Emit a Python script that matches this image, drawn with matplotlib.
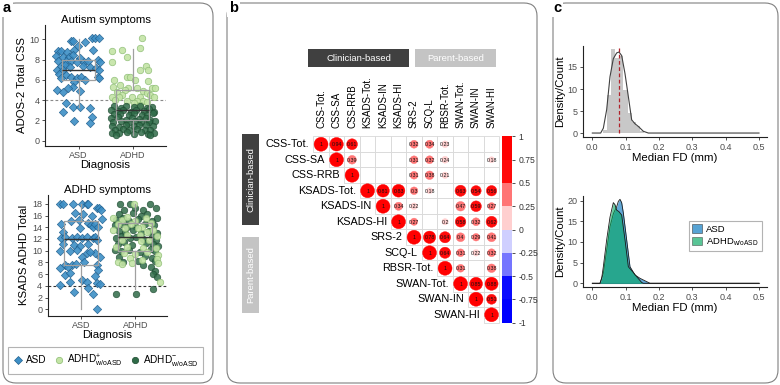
import numpy as np
import matplotlib
matplotlib.use("Agg")
import matplotlib.pyplot as plt
from matplotlib.patches import FancyBboxPatch, Rectangle, Circle, Patch
from matplotlib.lines import Line2D
import matplotlib.colors as mcolors
import matplotlib.colorbar as mcolorbar

plt.rcParams['font.family'] = ['Liberation Sans', 'DejaVu Sans']
plt.rcParams['mathtext.fontset'] = 'custom'
plt.rcParams['mathtext.rm'] = 'Liberation Sans'
plt.rcParams['mathtext.it'] = 'Liberation Sans:italic'

# ---------------- data: panel a ----------------
diagnoses = ['ASD', 'ADHD']
asd_css_jit = [-0.14, -0.10, 0.11, 0.25, 0.31, 0.37, -0.01, 0.27, -0.38, -0.32, -0.22, -0.08,
               -0.42, -0.29, -0.18, -0.11, 0.02, -0.38, -0.24, -0.14, -0.04, 0.10, 0.17, 0.36,
               0.39, -0.33, -0.26, -0.16, 0.08, 0.21, 0.32, 0.38, -0.40, -0.29, -0.37, -0.23,
               -0.14, -0.04, 0.05, 0.36, -0.32, -0.08, 0.11, 0.38, -0.11, -0.19, -0.41, -0.29,
               0.02, -0.23, -0.11, -0.29, 0.02, 0.21, 0.24, -0.08, 0.21]
asd_css = [9.87, 9.87, 9.77, 10.16, 10.16, 10.16, 9.38, 8.95, 8.88, 8.88, 8.78, 8.95,
           8.39, 8.29, 8.29, 8.45, 8.19, 7.86, 7.86, 7.86, 7.73, 7.80, 7.86, 7.96,
           7.80, 7.40, 7.47, 7.30, 7.40, 7.30, 7.14, 6.97, 6.97, 6.97, 6.55, 6.48,
           6.32, 6.15, 6.32, 6.32, 6.15, 5.76, 5.99, 6.15, 5.33, 5.16, 5.00, 4.84,
           4.90, 3.68, 3.36, 2.86, 3.36, 3.19, 2.37, 1.94, 1.71]
adhdp_css_jit = [-0.39, -0.20, 0.17, 0.13, -0.10, -0.39, 0.25, 0.29, 0.14, -0.11, -0.05, -0.34,
                 0.05, 0.29, -0.23, -0.36, -0.08, 0.08, 0.36, 0.42, -0.29, -0.14, 0.20, 0.26,
                 -0.20, -0.39, -0.26, -0.02, 0.14, 0.33, 0.39, -0.33, -0.11, 0.08, 0.20, 0.26,
                 0.02, 0.14]
adhdp_css = [8.85, 8.95, 10.10, 9.18, 8.29, 7.80, 7.40, 6.97, 6.97, 6.32, 6.32, 5.99,
             5.99, 5.89, 5.49, 5.33, 5.23, 5.23, 5.23, 5.23, 4.84, 5.00, 4.90, 4.67,
             4.51, 4.34, 4.34, 4.34, 4.34, 4.51, 4.34, 4.01, 3.91, 3.91, 3.91, 3.78,
             3.68, 3.52]
adhdm_css_jit = [-0.35, -0.22, -0.12, 0.03, 0.13, 0.26, 0.36, -0.41, -0.27, -0.17, -0.03, 0.07,
                 0.21, 0.30, 0.40, -0.34, -0.23, -0.07, 0.03, 0.18, 0.27, 0.38, -0.40, -0.28,
                 -0.13, -0.01, 0.11, 0.24, 0.33, -0.36, -0.21, -0.09, 0.05, 0.16, 0.30, 0.41,
                 -0.39, -0.26, -0.13, 0.02, 0.12, 0.24, 0.37, -0.33, -0.17, -0.06, 0.08, 0.23,
                 0.32, -0.38, -0.25, -0.10, 0.02, 0.15, 0.29, 0.39, -0.30, 0.33]
adhdm_css = [3.40, 3.22, 3.47, 3.30, 3.38, 3.25, 3.35, 3.00, 2.90, 3.07, 2.85, 3.02,
             2.95, 3.10, 2.88, 2.62, 2.68, 2.50, 2.74, 2.58, 2.52, 2.70, 2.20, 2.30,
             2.05, 2.25, 2.12, 2.24, 2.08, 1.85, 1.95, 1.76, 1.92, 1.82, 1.80, 1.95,
             1.50, 1.40, 1.58, 1.42, 1.52, 1.58, 1.44, 1.10, 1.18, 1.02, 1.14, 1.06,
             1.05, 0.80, 0.72, 0.88, 0.70, 0.84, 0.62, 0.80, 0.56, 0.52]

asd_ksads_jit = [-0.38, -0.33, -0.15, 0.02, 0.11, 0.14, 0.30, 0.34, 0.37, -0.10, 0.04, 0.20,
                 0.38, -0.37, -0.18, -0.04, 0.14, 0.18, 0.22, 0.26, 0.32, -0.02, -0.32, -0.37,
                 -0.29, -0.16, -0.07, 0.02, 0.11, 0.23, 0.26, 0.29, -0.32, -0.13, -0.01, 0.14,
                 -0.38, -0.20, -0.07, 0.26, 0.02, 0.11, 0.17, 0.35, 0.05, -0.29, -0.16, -0.09,
                 0.29, -0.38, -0.23, 0.32, -0.29, -0.20, 0.26, 0.02, 0.11, 0.30, -0.38, -0.20,
                 0.35, 0.14, -0.13, 0.22, 0.29]
asd_ksads = [18.0, 18.0, 18.0, 18.0, 18.0, 18.0, 17.25, 17.25, 16.97, 16.40, 16.23, 16.00,
             15.43, 14.52, 14.98, 15.26, 14.69, 14.41, 14.12, 14.52, 14.12, 13.84, 13.15, 12.13,
             12.41, 12.13, 12.41, 12.13, 12.41, 12.13, 12.41, 11.84, 11.10, 10.99, 10.88, 11.10,
             9.97, 9.97, 10.14, 9.57, 9.00, 9.57, 9.74, 9.00, 8.14, 7.57, 7.57, 7.69,
             7.57, 7.12, 7.29, 6.72, 5.87, 6.15, 5.75, 5.01, 4.61, 4.44, 4.16, 4.73,
             4.27, 3.59, 3.02, 2.62, 0.00]
adhdm_ksads_jit = [-0.28, -0.10, 0.27, 0.38, -0.20, 0.00, 0.15, -0.30, -0.05, 0.10, 0.22,
                   -0.35, -0.22, -0.12, 0.05, 0.30, 0.40, -0.38, -0.25, -0.15, 0.00, 0.18, 0.35,
                   -0.30, -0.18, -0.05, 0.10, 0.25, 0.40, -0.36, -0.26, -0.10, 0.02, 0.14, 0.30,
                   0.38, -0.32, -0.20, -0.06, 0.20, 0.33, 0.42, -0.38, -0.27, -0.12, 0.08, 0.28,
                   0.36, -0.30, 0.18, 0.30, -0.22, 0.05, 0.36, 0.15, 0.28, 0.36, 0.32, 0.40,
                   -0.35, 0.02, 0.32]
adhdm_ksads = [18.0, 17.9, 18.0, 17.3, 17.0, 17.2, 16.9, 16.3, 16.5, 16.0, 16.2,
               15.3, 15.5, 15.0, 15.4, 15.1, 15.6, 14.3, 14.5, 14.0, 14.2, 14.6, 14.3,
               13.3, 13.0, 13.5, 13.1, 13.4, 13.0, 12.2, 12.5, 12.1, 12.3, 12.0, 12.4,
               11.9, 11.2, 11.5, 11.0, 11.3, 11.1, 10.8, 10.1, 9.9, 10.2, 9.8, 10.3,
               10.0, 9.0, 9.1, 8.8, 8.1, 8.3, 8.2, 7.6, 7.2, 6.6, 6.0, 5.5,
               2.6, 2.6, 3.4]
adhdp_ksads_jit = [-0.02, -0.40, -0.25, -0.15, 0.00, 0.20, -0.32, -0.08, 0.12, 0.28,
                   -0.40, -0.18, 0.05, 0.22, 0.33, -0.15, 0.08, 0.40, -0.25, 0.10, 0.26,
                   -0.35, -0.16, 0.15, 0.38, -0.20, 0.00, 0.22, 0.42, -0.32, -0.10, 0.12,
                   0.40, -0.25, -0.06, 0.42, 0.45]
adhdp_ksads = [18.0, 15.6, 15.3, 15.7, 15.0, 15.5, 14.6, 14.6, 14.1, 14.7,
               13.6, 13.8, 13.9, 13.2, 13.6, 12.7, 12.6, 12.5, 11.8, 11.6, 11.8,
               10.7, 10.6, 10.5, 10.4, 9.6, 9.5, 9.7, 9.2, 8.0, 8.7, 8.4,
               8.6, 7.7, 7.9, 7.9, 4.7]

# boxplot summaries (med, q1, q3, lower whisker, upper whisker)
css_box = {'ASD': (7.0, 6.0, 8.0, 3.3, 10.0), 'ADHD': (3.0, 2.0, 5.0, 0.6, 9.0)}
ksads_box = {'ASD': (12.0, 7.5, 15.0, 0.0, 18.0), 'ADHD': (12.3, 10.0, 14.8, 3.4, 18.0)}

# ---------------- data: panel b ----------------
measures = ['CSS-Tot.', 'CSS-SA', 'CSS-RRB', 'KSADS-Tot.', 'KSADS-IN', 'KSADS-HI',
            'SRS-2', 'SCQ-L', 'RBSR-Tot.', 'SWAN-Tot.', 'SWAN-IN', 'SWAN-HI']
nan = np.nan
cor_rows = [
    [1, 0.94, 0.61, nan, nan, nan, 0.32, 0.34, 0.23, nan, nan, nan],
    [1, 0.39, nan, nan, nan, 0.31, 0.32, 0.24, nan, nan, 0.18],
    [1, nan, nan, nan, 0.31, 0.38, 0.21, nan, nan, nan],
    [1, 0.81, 0.83, 0.30, 0.18, nan, 0.63, 0.54, 0.56],
    [1, 0.34, 0.22, nan, nan, 0.47, 0.59, 0.27],
    [1, 0.27, nan, 0.20, 0.58, 0.32, 0.62],
    [1, 0.78, 0.64, 0.40, 0.29, 0.41],
    [1, 0.64, 0.31, 0.22, 0.32],
    [1, 0.31, nan, 0.38],
    [1, 0.85, 0.88],
    [1, 0.51],
    [1],
]
cbar_ticks = [-1, -0.75, -0.5, -0.25, 0, 0.25, 0.5, 0.75, 1]
cbar_labels = ['-1', '-0.75', '-0.5', '-0.25', '0', '0.25', '0.5', '0.75', '1']
cor_colors = ['#0000FF', '#0A0AFF', '#7575FF', '#CFCFFF', '#FFCFCF', '#FF7575', '#FF0A0A', '#FF0000']

# ---------------- data: panel c ----------------
hist_left = [0.0305, 0.043, 0.0555, 0.068, 0.0805, 0.093, 0.1055, 0.118, 0.1305, 0.143]
hist_height = [0.6, 8.6, 19.0, 17.1, 17.4, 9.8, 4.5, 2.4, 1.5, 0.4]
hist_width = 0.0125
fd_x = [0.0, 0.025, 0.033, 0.043, 0.053, 0.063, 0.073, 0.080, 0.088, 0.098, 0.108, 0.118,
        0.128, 0.138, 0.153, 0.168, 0.5]
fd_y = [0, 0, 1.1, 5.3, 12.8, 16.9, 18.2, 18.4, 17.6, 13.5, 8.3, 3.0, 2.1, 1.5, 0.4, 0, 0]
fd_median = 0.08
asd_fd_x = [0.0, 0.023, 0.033, 0.043, 0.053, 0.063, 0.068, 0.073, 0.078, 0.083, 0.088, 0.093,
            0.103, 0.113, 0.128, 0.143, 0.163, 0.173, 0.5]
asd_fd_y = [0, 0, 2.4, 8.0, 13.7, 16.8, 17.7, 18.5, 19.8, 20.3, 19.5, 17.0, 10.5, 4.0, 2.0,
            1.2, 0.4, 0, 0]
adhd_fd_x = [0.0, 0.023, 0.028, 0.033, 0.043, 0.053, 0.063, 0.068, 0.073, 0.080, 0.088, 0.098,
             0.108, 0.123, 0.133, 0.148, 0.153, 0.5]
adhd_fd_y = [0, 0, 1.2, 4.0, 10.5, 16.0, 19.5, 19.0, 17.7, 17.3, 16.5, 10.5, 4.0, 2.6, 1.6,
             0.2, 0, 0]

# ---------------- figure ----------------
W, H = 780, 385
fig = plt.figure(figsize=(7.8, 3.85), dpi=100)


def px_axes(l, t, r, b):
    ax = fig.add_axes([l / W, 1 - b / H, (r - l) / W, (b - t) / H])
    ax.set_facecolor('none')
    return ax


ov = fig.add_axes([0, 0, 1, 1])
ov.set_xlim(0, W)
ov.set_ylim(H, 0)
ov.axis('off')
ov.set_facecolor('none')
for (x0, y0, x1, y1) in [(3, 3, 213, 383), (227, 3, 537, 383), (553, 3, 778, 383)]:
    r = 13
    ov.add_patch(FancyBboxPatch((x0 + r, y0 + r), x1 - x0 - 2 * r, y1 - y0 - 2 * r,
                                boxstyle=f"round,pad={r}", fc='none', ec='#808080', lw=0.8))
for lab, x in [('a', 3), ('b', 229), ('c', 553)]:
    ov.text(x, 1, lab, fontsize=10.5, fontweight='bold', ha='left', va='top',
            bbox=dict(fc='white', ec='none', pad=1.5))

# header boxes of panel b
ov.add_patch(Rectangle((308, 49), 101, 18, fc='#404040', ec='none'))
ov.text(358.5, 58.5, 'Clinician-based', color='white', fontsize=6.8, ha='center', va='center')
ov.add_patch(Rectangle((415, 49), 81, 18, fc='#C4C4C4', ec='none'))
ov.text(455.5, 58.5, 'Parent-based', color='white', fontsize=6.8, ha='center', va='center')
ov.add_patch(Rectangle((242, 134), 17, 91, fc='#404040', ec='none'))
ov.text(250.5, 179.5, 'Clinician-based', color='white', fontsize=6.8, ha='center', va='center',
        rotation=90)
ov.add_patch(Rectangle((242, 237), 17, 76, fc='#C4C4C4', ec='none'))
ov.text(250.5, 275, 'Parent-based', color='white', fontsize=6.8, ha='center', va='center',
        rotation=90)

# ---------------- panel a ----------------
c_asd, e_asd = '#3D8FC6', '#22608E'
c_p, e_p = '#C3E4A5', '#8BBB72'
c_m, e_m = '#2F6B48', '#1D4A30'


def style_a(ax):
    for s in ['top', 'right']:
        ax.spines[s].set_visible(False)
    for s in ['left', 'bottom']:
        ax.spines[s].set_linewidth(0.8)
        ax.spines[s].set_color('#222222')
    ax.tick_params(labelsize=6.5, labelcolor='#4D4D4D', length=2.5, width=0.6, color='#333333',
                   pad=1.5)
    ax.set_xticks([1, 2])
    ax.set_xticklabels(diagnoses)
    ax.set_xlabel('Diagnosis', fontsize=8.2, labelpad=0)


def draw_box(ax, boxdict):
    stats = []
    for d in diagnoses:
        med, q1, q3, lo, hi = boxdict[d]
        stats.append(dict(med=med, q1=q1, q3=q3, whislo=lo, whishi=hi, fliers=[]))
    ax.bxp(stats, positions=[1, 2], widths=0.62, showfliers=False, showcaps=False,
           boxprops=dict(color='#A0A0A0', lw=0.9), whiskerprops=dict(color='#A0A0A0', lw=0.9),
           medianprops=dict(color='#333333', lw=1.0), zorder=4)


ax1 = px_axes(45, 25, 166, 145.7)
ax1.axhline(4, color='#8A8A8A', ls=(0, (2.5, 2)), lw=0.8, zorder=1)
ax1.scatter(np.add(1, asd_css_jit), asd_css, marker='D', s=18, c=c_asd, edgecolors=e_asd,
            linewidths=0.5, alpha=0.9, zorder=3)
ax1.scatter(np.add(2, adhdp_css_jit), adhdp_css, marker='o', s=22, c=c_p, edgecolors=e_p,
            linewidths=0.5, alpha=0.9, zorder=3)
ax1.scatter(np.add(2, adhdm_css_jit), adhdm_css, marker='o', s=22, c=c_m, edgecolors=e_m,
            linewidths=0.5, alpha=0.85, zorder=3)
draw_box(ax1, css_box)
ax1.set_xlim(0.374, 2.62)
ax1.set_ylim(-0.49, 11.41)
ax1.set_yticks([0, 2, 4, 6, 8, 10])
style_a(ax1)
ax1.set_ylabel('ADOS-2 Total CSS', fontsize=8.2, labelpad=2)
ax1.set_title('Autism symptoms', fontsize=8.2, pad=1)

ax2 = px_axes(47.7, 195, 167.3, 315.7)
ax2.axhline(4, color='#333333', ls=(0, (2.5, 2)), lw=0.8, zorder=1)
ax2.scatter(np.add(1, asd_ksads_jit), asd_ksads, marker='D', s=18, c=c_asd, edgecolors=e_asd,
            linewidths=0.5, alpha=0.9, zorder=3)
ax2.scatter(np.add(2, adhdm_ksads_jit), adhdm_ksads, marker='o', s=22, c=c_m, edgecolors=e_m,
            linewidths=0.5, alpha=0.85, zorder=3)
ax2.scatter(np.add(2, adhdp_ksads_jit), adhdp_ksads, marker='o', s=22, c=c_p, edgecolors=e_p,
            linewidths=0.5, alpha=0.9, zorder=3)
draw_box(ax2, ksads_box)
ax2.set_xlim(0.393, 2.587)
ax2.set_ylim(-1.09, 19.5)
ax2.set_yticks(list(range(0, 19, 2)))
style_a(ax2)
ax2.set_ylabel('KSADS ADHD Total', fontsize=8.2, labelpad=2)
ax2.set_title('ADHD symptoms', fontsize=8.2, pad=1)

handles = [Line2D([], [], marker='D', ls='none', ms=4.2, mfc=c_asd, mec=e_asd, mew=0.5),
           Line2D([], [], marker='o', ls='none', ms=4.6, mfc=c_p, mec=e_p, mew=0.5),
           Line2D([], [], marker='o', ls='none', ms=4.6, mfc=c_m, mec=e_m, mew=0.5)]
labels = ['ASD', r'$\mathrm{ADHD}^{+}_{\mathrm{w/oASD}}$', r'$\mathrm{ADHD}^{-}_{\mathrm{w/oASD}}$']
leg = fig.legend(handles, labels, loc='center', bbox_to_anchor=(105.5 / W, 1 - 360.5 / H),
                 ncol=3, fontsize=7.2, frameon=True, fancybox=False, handlelength=1.0,
                 handletextpad=0.35, columnspacing=0.7, borderpad=0.5, borderaxespad=0)
leg.get_frame().set_edgecolor('#A0A0A0')
leg.get_frame().set_linewidth(0.8)

# ---------------- panel b ----------------
cs = 15.5
gx0, gy0 = 313.3, 136.5
bl, bt, br, bb = 240, 40, 535, 330
axb = px_axes(bl, bt, br, bb)
axb.set_xlim((bl - gx0) / cs, (br - gx0) / cs)
axb.set_ylim((bb - gy0) / cs, (bt - gy0) / cs)
axb.axis('off')


def cor_color(v):
    idx = int(np.floor((v + 1) / 0.25))
    return cor_colors[min(max(idx, 0), 7)]


def fmt(v):
    if v == 1:
        return '1'
    return ('%.2f' % v).rstrip('0')


for i, row in enumerate(cor_rows):
    for k, v in enumerate(row):
        j = i + k
        axb.add_patch(Rectangle((j, i), 1, 1, fc='white', ec='#D8D8D8', lw=0.6, zorder=1))
        if not np.isnan(v):
            axb.add_patch(Circle((j + 0.5, i + 0.5), 0.45 * np.sqrt(abs(v)), fc=cor_color(v),
                                 ec=cor_color(v), lw=0.3, zorder=2))
            axb.text(j + 0.5, i + 0.52, fmt(v), fontsize=3.8, ha='center', va='center',
                     color='#111111', zorder=3)
for i, name in enumerate(measures):
    axb.text(i - 0.25, i + 0.5, name, fontsize=7.8, ha='right', va='center', color='black')
    axb.text(i + 0.5, -0.55, name, fontsize=7.0, ha='center', va='bottom', rotation=90,
             color='black')

cax = px_axes(502, gy0, 512, gy0 + 12 * cs)
cmap = mcolors.ListedColormap(cor_colors)
norm = mcolors.BoundaryNorm(np.linspace(-1, 1, 9), cmap.N)
cb = mcolorbar.ColorbarBase(cax, cmap=cmap, norm=norm, ticks=cbar_ticks, orientation='vertical')
cb.outline.set_visible(False)
cb.set_ticklabels(cbar_labels)
cax.tick_params(labelsize=6.2, length=2.5, width=0.6, color='#333333', labelcolor='#333333', pad=2)

# ---------------- panel c ----------------


def style_c(ax, yticks, ylim):
    for s in ['top', 'right']:
        ax.spines[s].set_visible(False)
    for s in ['left', 'bottom']:
        ax.spines[s].set_linewidth(0.8)
        ax.spines[s].set_color('#222222')
    ax.set_xlim(-0.028, 0.524)
    ax.set_ylim(*ylim)
    ax.set_yticks(yticks)
    ax.set_xticks([0.0, 0.1, 0.2, 0.3, 0.4, 0.5])
    ax.set_xticklabels(['0.0', '0.1', '0.2', '0.3', '0.4', '0.5'])
    ax.tick_params(labelsize=6.5, labelcolor='#4D4D4D', length=2.5, width=0.6, color='#333333',
                   pad=1.5)
    ax.set_xlabel('Median FD (mm)', fontsize=8.2, labelpad=1)
    ax.set_ylabel('Density/Count', fontsize=8.2, labelpad=2)


axc1 = px_axes(583, 46, 767, 137)
axc1.bar(hist_left, hist_height, width=hist_width, align='edge', color='#C8C8C8', ec='none',
         zorder=1)
axc1.plot(fd_x, fd_y, color='#404040', lw=0.8, zorder=3)
axc1.vlines(fd_median, 0, 19.5, colors='#B0222A', linestyles=(0, (3, 2)), lw=0.9, zorder=4)
style_c(axc1, [0, 5, 10, 15], (-0.9, 19.77))

axc2 = px_axes(583, 196, 767, 287)
col_asd, col_adhd = '#1F84C6', '#00A65E'
axc2.fill_between(asd_fd_x, asd_fd_y, color=col_asd, alpha=0.7, lw=0, zorder=2)
axc2.plot(asd_fd_x, asd_fd_y, color='#1A1A1A', lw=0.6, zorder=2.1)
axc2.fill_between(adhd_fd_x, adhd_fd_y, color=col_adhd, alpha=0.6, lw=0, zorder=3)
axc2.plot(adhd_fd_x, adhd_fd_y, color='#1A1A1A', lw=0.6, zorder=3.1)
axc2.plot([0, 0.5], [0, 0], color='#808080', lw=0.8, zorder=1)
style_c(axc2, [0, 5, 10, 15, 20], (-0.9, 21.1))
lh = [Patch(fc=col_asd, ec='#333333', alpha=0.75, lw=0.5),
      Patch(fc=col_adhd, ec='#333333', alpha=0.65, lw=0.5)]
leg2 = fig.legend(lh, ['ASD', r'$\mathrm{ADHD}_{\mathrm{w/oASD}}$'], loc='center',
                  bbox_to_anchor=(725.5 / W, 1 - 236 / H), fontsize=6.8, frameon=True,
                  fancybox=False, handlelength=1.0, handleheight=1.0, handletextpad=0.5,
                  borderpad=0.35, labelspacing=0.2, borderaxespad=0)
leg2.get_frame().set_edgecolor('#A0A0A0')
leg2.get_frame().set_linewidth(0.8)

fig.savefig('out.png', dpi=100)
